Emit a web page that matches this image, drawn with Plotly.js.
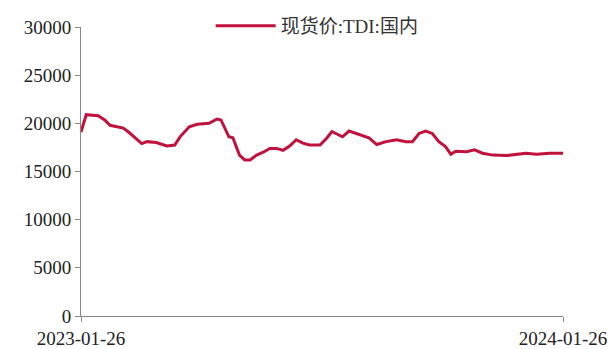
<!DOCTYPE html>
<html>
<head>
<meta charset="utf-8">
<script src="https://cdn.plot.ly/plotly-3.0.1.min.js"></script>
<style>html,body{margin:0;padding:0;background:#fff;}#chart{width:614px;height:349px;}</style>
</head>
<body>
<div id="chart"></div>
<script>
const seriesName = "现货价:TDI:国内";
const dates = [
  "2023-01-26","2023-01-30","2023-02-08","2023-02-13","2023-02-17","2023-02-27","2023-03-03","2023-03-08",
  "2023-03-13","2023-03-17","2023-03-24","2023-04-01","2023-04-07","2023-04-11","2023-04-18","2023-04-24",
  "2023-05-03","2023-05-09","2023-05-12","2023-05-18","2023-05-21","2023-05-26","2023-05-30","2023-06-03",
  "2023-06-08","2023-06-13","2023-06-18","2023-06-23","2023-06-28","2023-07-03","2023-07-08","2023-07-13",
  "2023-07-18","2023-07-26","2023-07-29","2023-07-31","2023-08-04","2023-08-12","2023-08-17","2023-08-25",
  "2023-09-01","2023-09-07","2023-09-14","2023-09-22","2023-09-29","2023-10-04","2023-10-09","2023-10-14",
  "2023-10-19","2023-10-24","2023-10-29","2023-11-02","2023-11-06","2023-11-14","2023-11-20","2023-11-26",
  "2023-12-04","2023-12-14","2023-12-22","2023-12-29","2024-01-06","2024-01-16","2024-01-26"
];
const prices = [
  19100,20900,20800,20350,19800,19500,19100,18500,
  17900,18100,18000,17650,17750,18600,19650,19900,
  20000,20450,20350,18600,18500,16700,16200,16200,
  16700,17000,17400,17400,17200,17650,18300,17950,
  17750,17750,18150,18450,19150,18600,19200,18850,
  18500,17800,18100,18300,18100,18100,18950,19200,
  18950,18100,17600,16800,17100,17050,17250,16900,
  16700,16650,16800,16900,16800,16900,16900
];
const xTickVals = ["2023-01-26","2024-01-26"];
const xTickText = ["2023-01-26","2024-01-26"];
const yTickVals = [0,5000,10000,15000,20000,25000,30000];
const yTickText = ["0","5000","10000","15000","20000","25000","30000"];

const trace = {
  x: dates, y: prices, type: "scatter", mode: "lines", name: seriesName,
  line: {color: "#C0123C", width: 3}
};
const layout = {
  width: 614, height: 349,
  margin: {l: 81, r: 51, t: 27, b: 33, autoexpand: false},
  paper_bgcolor: "#fff", plot_bgcolor: "#fff",
  font: {family: "Liberation Serif, Times New Roman, serif", size: 19, color: "#222"},
  showlegend: true,
  legend: {orientation: "h", x: 0.49, xanchor: "center", y: 1.004, yanchor: "middle",
    font: {family: "Liberation Serif, Noto Sans CJK SC, serif", size: 19, color: "#333"},
    itemwidth: 60, bgcolor: "rgba(0,0,0,0)"},
  xaxis: {type: "date", range: ["2023-01-26","2024-01-26"], tickvals: xTickVals, ticktext: xTickText,
    showgrid: false, zeroline: false, showline: true, linecolor: "#888", linewidth: 1,
    ticks: "outside", ticklen: 5, tickcolor: "#888", tickangle: 0},
  yaxis: {range: [0,30000], tickvals: yTickVals, ticktext: yTickText, showgrid: false, zeroline: false,
    showline: true, linecolor: "#888", linewidth: 1, ticks: "outside", ticklen: 5, tickcolor: "#888"}
};
Plotly.newPlot("chart", [trace], layout, {displayModeBar: false, staticPlot: true});
</script>
</body>
</html>
